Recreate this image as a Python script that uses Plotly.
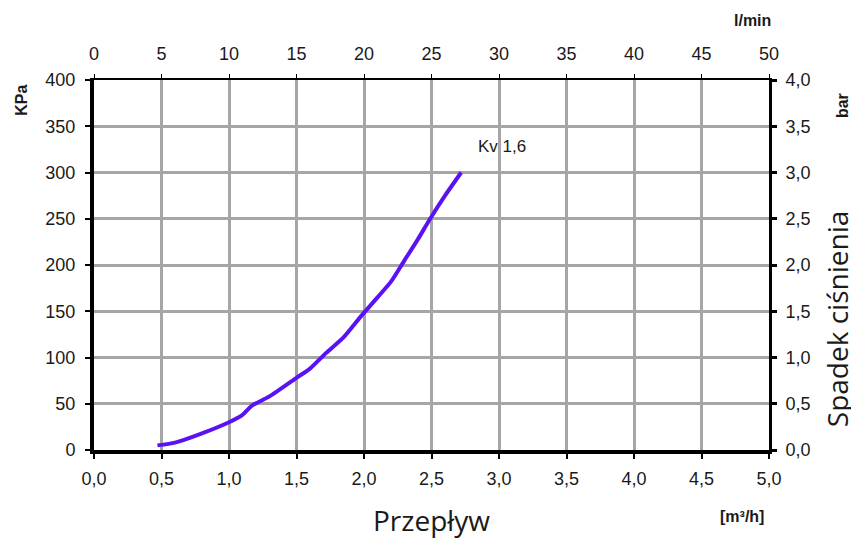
import plotly.graph_objects as go

# data
flow_m3h = [0.47, 0.6, 0.8, 1.0, 1.1, 1.17, 1.3, 1.5, 1.6, 1.72, 1.85, 1.98, 2.1, 2.2, 2.3, 2.4, 2.49, 2.6, 2.72]
drop_kpa = [5, 8, 18, 30, 38, 48, 58, 78, 88, 105, 122, 145, 165, 182, 205, 228, 250, 275, 300]
series_label = "Kv 1,6"

font_ticks = dict(family="Liberation Sans, Arial, sans-serif", size=18, color="#1a1a1a")
grid_col = "#a6a6a6"

fig = go.Figure()
fig.add_trace(go.Scatter(x=flow_m3h, y=drop_kpa, mode="lines",
                         line=dict(color="#5a12f5", width=4, shape="spline", smoothing=0.6),
                         showlegend=False, hoverinfo="skip"))
fig.add_trace(go.Scatter(x=[None], y=[None], xaxis="x2", yaxis="y", showlegend=False))
fig.add_trace(go.Scatter(x=[None], y=[None], xaxis="x", yaxis="y2", showlegend=False))

fig.add_annotation(x=3.02, y=328, text=series_label, showarrow=False,
                   font=dict(family="Liberation Sans, Arial, sans-serif", size=17, color="#1a1a1a"))

fig.update_layout(
    width=851, height=532,
    margin=dict(l=86, r=90, t=72, b=90),
    paper_bgcolor="white", plot_bgcolor="white",
    separators=", ",
    xaxis=dict(range=[0, 5], dtick=0.5, tickformat=".1f", showgrid=True, gridcolor=grid_col, gridwidth=2.5,
               showline=True, linecolor="black", linewidth=4, ticks="outside", ticklen=5, tickwidth=2,
               tickcolor="black", tickfont=font_ticks, zeroline=False, ticklabelstandoff=4),
    xaxis2=dict(range=[0, 50], dtick=5, overlaying="x", side="top", showgrid=False,
                showline=True, linecolor="black", linewidth=2, ticks="outside", ticklen=4, tickwidth=1,
                tickcolor="black", tickfont=font_ticks, zeroline=False, ticklabelstandoff=7),
    yaxis=dict(range=[0, 400], dtick=50, showgrid=True, gridcolor=grid_col, gridwidth=2.5,
               showline=True, linecolor="black", linewidth=4, ticks="outside", ticklen=5, tickwidth=2,
               tickcolor="black", tickfont=font_ticks, zeroline=False, ticklabelstandoff=6),
    yaxis2=dict(range=[0, 4], dtick=0.5, tickformat=".1f", overlaying="y", side="right", showgrid=False,
                showline=True, linecolor="black", linewidth=3, ticks="outside", ticklen=5, tickwidth=3,
                tickcolor="black", tickfont=font_ticks, zeroline=False, ticklabelstandoff=5),
)

bold = dict(family="Liberation Sans, Arial, sans-serif", size=16, color="#1a1a1a")
big = dict(family="Open Sans, Noto Sans, sans-serif", size=28, color="#1a1a1a")
labels = [
    (-0.107, 0.946, "<b>KPa</b>", -90, bold),
    (1.108, 0.932, "<b>bar</b>", -90, bold),
    (0.975, 1.16, "<b>l/min</b>", 0, bold),
    (0.96, -0.181, "<b>[m³/h]</b>", 0, bold),
    (0.5, -0.19, "Przepływ", 0, big),
    (1.101, 0.354, "Spadek ciśnienia", -90, big),
]
for x, y, t, ang, f in labels:
    fig.add_annotation(xref="paper", yref="paper", x=x, y=y, text=t, textangle=ang,
                       xanchor="center", yanchor="middle", showarrow=False, font=f)

fig.write_html("out.html")
